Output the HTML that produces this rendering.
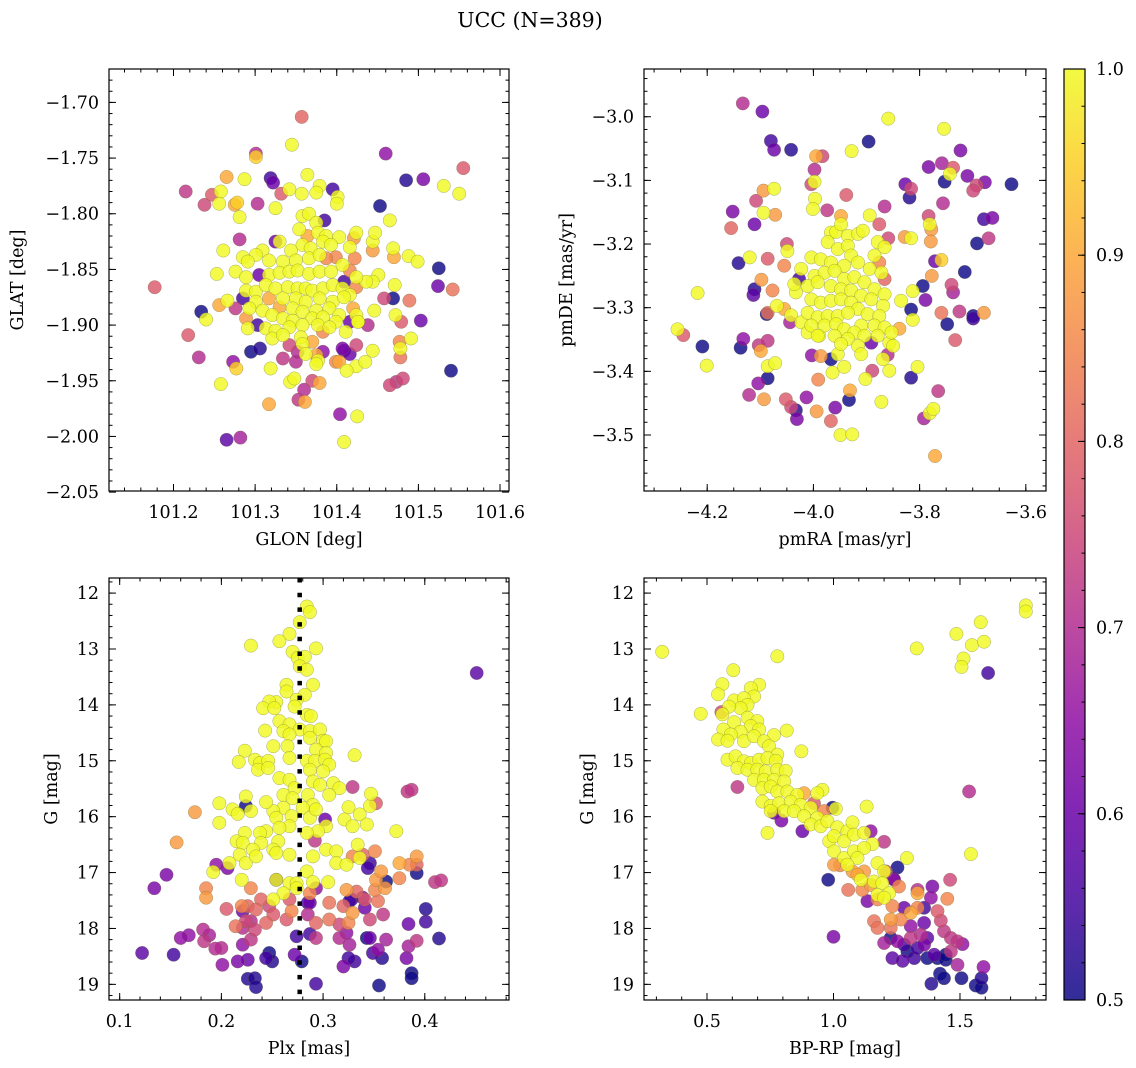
<!DOCTYPE html>
<html><head><meta charset="utf-8">
<style>
html,body{margin:0;padding:0;background:#fff;}
svg{display:block;font-family:"DejaVu Serif","Liberation Serif",serif;}
</style></head>
<body>
<svg id="fig" width="1136" height="1068" viewBox="0 0 1136 1068" xmlns="http://www.w3.org/2000/svg">
<rect width="1136" height="1068" fill="#fff"/>
<text x="530" y="27" font-size="20.5" text-anchor="middle">UCC (N=389)</text>
</svg>
<script>
// ---- Panel 1: GLON vs GLAT  [glon, glat, prob]
const p1Points = [
[101.357,-1.713,.8],[101.345,-1.738,1],[101.301,-1.746,.7],[101.301,-1.749,.95],[101.460,-1.746,.65],[101.555,-1.759,.78],
[101.265,-1.767,.9],[101.287,-1.769,1],[101.319,-1.768,.55],[101.322,-1.772,.6],[101.364,-1.765,1],[101.485,-1.770,.52],
[101.506,-1.769,.62],[101.531,-1.775,1],[101.550,-1.782,1],[101.215,-1.780,.72],[101.247,-1.783,.78],[101.258,-1.780,1],
[101.238,-1.792,.75],[101.256,-1.791,1],[101.275,-1.792,.9],[101.278,-1.790,.95],[101.281,-1.803,1],[101.303,-1.791,.7],
[101.325,-1.795,1],[101.332,-1.782,.78],[101.342,-1.778,1],[101.357,-1.782,1],[101.379,-1.775,1],[101.375,-1.781,1],
[101.395,-1.778,.55],[101.401,-1.785,1],[101.400,-1.791,1],[101.453,-1.793,.5],[101.465,-1.806,1],[101.525,-1.849,.5],
[101.524,-1.865,.6],[101.542,-1.868,.82],[101.177,-1.866,.78],[101.253,-1.854,1],[101.261,-1.833,1],[101.281,-1.823,.7],
[101.234,-1.888,.5],[101.240,-1.895,1],[101.218,-1.909,.78],[101.231,-1.929,.7],[101.273,-1.933,.65],[101.277,-1.939,.95],
[101.258,-1.953,1],[101.295,-1.924,.5],[101.306,-1.921,.52],[101.319,-1.939,1],[101.317,-1.971,.9],[101.343,-1.951,1],
[101.348,-1.948,1],[101.360,-1.958,.7],[101.370,-1.950,.75],[101.379,-1.952,.9],[101.353,-1.967,.72],[101.361,-1.969,.9],
[101.404,-1.980,.65],[101.425,-1.982,1],[101.409,-2.005,1],[101.265,-2.003,.58],[101.282,-2.001,.68],[101.540,-1.941,.5],
[101.503,-1.896,.6],[101.489,-1.878,.82],[101.479,-1.897,.78],[101.491,-1.912,1],[101.477,-1.915,.85],[101.478,-1.921,1],
[101.478,-1.929,.82],[101.465,-1.954,.75],[101.481,-1.948,.75],[101.473,-1.951,.72],[101.444,-1.923,1],[101.424,-1.937,1],
[101.435,-1.933,1],[101.412,-1.941,1],[101.403,-1.933,.9],[101.409,-1.923,.6],[101.424,-1.918,.75],[101.469,-1.831,1],
[101.470,-1.839,.9],[101.488,-1.838,1],[101.499,-1.843,1],[101.471,-1.864,1],[101.458,-1.876,.75],[101.469,-1.876,.5],
[101.444,-1.825,1],[101.447,-1.817,1],[101.444,-1.833,.88],[101.424,-1.817,1],[101.421,-1.822,.88],[101.451,-1.855,1],
[101.444,-1.861,1],[101.436,-1.861,1],[101.446,-1.887,1],[101.472,-1.891,1],[101.426,-1.897,1],[101.438,-1.900,.7],
[101.358,-1.802,1],[101.366,-1.800,1],[101.375,-1.808,1],[101.385,-1.806,.55],[101.354,-1.814,1],[101.364,-1.820,.9],
[101.377,-1.817,1],[101.387,-1.820,1],[101.403,-1.821,1],[101.325,-1.825,.6],[101.330,-1.825,1],[101.344,-1.833,1],
[101.358,-1.828,1],[101.368,-1.831,1],[101.383,-1.825,1],[101.393,-1.828,1],[101.416,-1.830,1],[101.422,-1.840,.85],
[101.399,-1.839,.85],[101.309,-1.833,1],[101.301,-1.837,1],[101.285,-1.839,1],[101.291,-1.843,1],[101.317,-1.842,1],
[101.334,-1.843,1],[101.350,-1.842,1],[101.366,-1.840,1],[101.379,-1.837,1],[101.387,-1.840,.85],[101.407,-1.846,1],
[101.416,-1.851,.85],[101.276,-1.852,1],[101.289,-1.857,1],[101.305,-1.855,.6],[101.317,-1.855,1],[101.330,-1.853,1],
[101.342,-1.852,1],[101.352,-1.851,1],[101.366,-1.854,1],[101.379,-1.852,1],[101.393,-1.852,1],[101.409,-1.861,.55],
[101.424,-1.857,1],[101.424,-1.866,.85],[101.289,-1.869,1],[101.301,-1.870,1],[101.313,-1.864,1],[101.325,-1.867,1],
[101.340,-1.866,1],[101.352,-1.867,1],[101.362,-1.867,1],[101.370,-1.869,1],[101.383,-1.867,1],[101.395,-1.864,1],
[101.407,-1.867,1],[101.416,-1.873,1],[101.285,-1.876,.55],[101.301,-1.879,1],[101.317,-1.876,.9],[101.334,-1.876,1],
[101.350,-1.876,1],[101.362,-1.879,1],[101.379,-1.876,1],[101.395,-1.879,1],[101.409,-1.875,1],[101.256,-1.882,.9],
[101.266,-1.878,1],[101.276,-1.885,.72],[101.293,-1.885,1],[101.309,-1.887,1],[101.330,-1.884,.9],[101.346,-1.885,1],
[101.358,-1.888,1],[101.375,-1.887,1],[101.391,-1.885,1],[101.403,-1.891,1],[101.420,-1.885,.9],[101.424,-1.891,1],
[101.289,-1.894,.88],[101.303,-1.900,.55],[101.321,-1.891,1],[101.334,-1.894,1],[101.346,-1.896,1],[101.370,-1.894,1],
[101.383,-1.893,1],[101.399,-1.897,1],[101.416,-1.897,.6],[101.426,-1.897,1],[101.291,-1.903,1],[101.313,-1.903,1],
[101.325,-1.905,1],[101.342,-1.902,1],[101.358,-1.900,1],[101.377,-1.900,1],[101.391,-1.902,1],[101.383,-1.906,.85],
[101.411,-1.906,1],[101.321,-1.912,1],[101.334,-1.909,1],[101.356,-1.911,1],[101.370,-1.915,.9],[101.358,-1.917,1],
[101.342,-1.918,.75],[101.352,-1.924,.7],[101.362,-1.926,1],[101.375,-1.927,.9],[101.383,-1.924,.65],[101.377,-1.932,1],
[101.407,-1.921,.62],[101.416,-1.926,.6],[101.399,-1.933,.85],[101.334,-1.930,.72],[101.350,-1.933,.7],[101.375,-1.935,1]
];
const p1XTicks = [101.2,101.3,101.4,101.5,101.6];
const p1YTicks = [-1.70,-1.75,-1.80,-1.85,-1.90,-1.95,-2.00,-2.05];

// ---- Panel 2: pmRA vs pmDE  [pmra, pmde, prob]
const p2Points = [
[-4.133,-2.979,.7],[-4.096,-2.992,.6],[-4.080,-3.038,.55],[-4.074,-3.052,.6],[-4.042,-3.052,.52],[-3.896,-3.039,.5],
[-3.859,-3.003,1],[-3.754,-3.019,1],[-3.928,-3.054,1],[-3.995,-3.062,.9],[-3.983,-3.062,.75],[-3.998,-3.083,.7],
[-4.004,-3.106,.75],[-3.998,-3.102,1],[-3.938,-3.123,.78],[-3.997,-3.129,1],[-4.001,-3.145,1],[-3.974,-3.147,.72],
[-3.948,-3.156,.9],[-3.894,-3.155,1],[-3.876,-3.169,.78],[-3.866,-3.141,.7],[-3.723,-3.053,.62],[-3.783,-3.079,.62],
[-3.758,-3.073,.68],[-3.737,-3.080,.78],[-3.743,-3.090,1],[-3.753,-3.102,.5],[-3.710,-3.093,.62],[-3.677,-3.103,.62],
[-3.693,-3.108,.75],[-3.699,-3.116,.75],[-3.627,-3.106,.5],[-3.827,-3.106,.6],[-3.816,-3.113,.75],[-3.819,-3.127,.52],
[-3.756,-3.136,.7],[-3.783,-3.156,.75],[-3.781,-3.169,1],[-3.778,-3.177,.88],[-3.679,-3.161,.55],[-3.663,-3.159,.62],
[-3.670,-3.191,.72],[-3.692,-3.199,.5],[-3.828,-3.189,.88],[-3.816,-3.191,1],[-3.779,-3.196,.88],[-3.859,-3.191,.75],
[-3.771,-3.227,.6],[-3.759,-3.225,.95],[-3.777,-3.250,.88],[-3.715,-3.244,.5],[-3.740,-3.264,.75],[-3.737,-3.276,.68],
[-3.794,-3.266,.5],[-3.789,-3.288,.62],[-3.759,-3.308,.82],[-3.725,-3.306,.72],[-3.748,-3.326,.5],[-3.699,-3.317,.55],
[-3.699,-3.313,.5],[-3.679,-3.308,.88],[-3.733,-3.351,.78],[-3.813,-3.274,1],[-3.835,-3.289,1],[-3.816,-3.303,.5],
[-3.813,-3.319,1],[-3.838,-3.333,.9],[-4.152,-3.149,.62],[-4.108,-3.132,.75],[-4.155,-3.175,.8],[-4.111,-3.169,.6],
[-4.094,-3.151,1],[-4.072,-3.154,.88],[-4.094,-3.116,.88],[-4.074,-3.113,1],[-4.141,-3.230,.52],[-4.120,-3.221,1],
[-4.086,-3.223,.78],[-4.218,-3.277,1],[-4.256,-3.334,1],[-4.245,-3.343,.78],[-4.209,-3.361,.5],[-4.201,-3.391,1],
[-4.137,-3.363,.5],[-4.132,-3.349,.65],[-4.103,-3.359,.72],[-4.086,-3.352,.72],[-4.099,-3.368,.9],[-4.086,-3.392,1],
[-4.072,-3.387,1],[-4.086,-3.411,.5],[-4.104,-3.419,.65],[-4.121,-3.437,.7],[-4.093,-3.444,.88],[-4.052,-3.444,.78],
[-4.042,-3.456,.75],[-4.033,-3.461,.52],[-4.031,-3.475,.62],[-3.994,-3.463,.88],[-4.013,-3.441,.65],[-3.967,-3.478,.8],
[-3.959,-3.457,.62],[-3.933,-3.445,.5],[-3.931,-3.430,.9],[-3.949,-3.500,1],[-3.927,-3.499,1],[-3.872,-3.448,1],
[-3.816,-3.410,.52],[-3.804,-3.393,1],[-3.765,-3.431,.72],[-3.792,-3.474,.68],[-3.781,-3.466,1],[-3.774,-3.459,1],
[-3.771,-3.533,.9],[-3.991,-3.413,.85],[-3.902,-3.412,1],[-3.857,-3.399,1],[-3.889,-3.399,.75],[-4.111,-3.271,.52],
[-4.113,-3.280,.58],[-4.098,-3.256,.88],[-4.077,-3.273,.85],[-4.088,-3.310,.5],[-4.086,-3.308,.82],[-4.069,-3.297,1],
[-4.042,-3.312,1],[-4.044,-3.323,.68],[-4.055,-3.302,.9],[-4.055,-3.234,.85],[-4.049,-3.211,1],[-4.050,-3.200,.75],
[-4.027,-3.255,.55],[-4.033,-3.276,1],[-4.023,-3.323,1],[-4.003,-3.375,.65],[-3.986,-3.376,.88],[-3.967,-3.381,.5],
[-3.964,-3.402,1],[-3.942,-3.393,1],[-3.989,-3.344,1],[-4.011,-3.339,1],
[-3.967,-3.182,1],[-3.957,-3.181,1],[-3.948,-3.169,1],[-3.935,-3.187,1],[-3.916,-3.184,1],[-3.907,-3.179,1],
[-3.879,-3.197,1],[-3.866,-3.205,1],[-3.885,-3.218,1],[-3.876,-3.229,.85],[-3.973,-3.197,1],[-3.954,-3.208,1],
[-3.935,-3.203,1],[-3.929,-3.218,1],[-4.004,-3.221,1],[-3.986,-3.224,1],[-3.967,-3.229,1],[-3.942,-3.234,1],
[-3.916,-3.229,1],[-3.894,-3.239,1],[-3.872,-3.245,1],[-3.866,-3.255,.8],[-4.023,-3.239,1],[-3.998,-3.250,1],
[-3.979,-3.245,1],[-3.960,-3.242,1],[-3.942,-3.255,1],[-3.923,-3.252,1],[-3.904,-3.260,1],[-3.885,-3.271,1],
[-3.866,-3.279,1],[-4.036,-3.263,1],[-4.011,-3.266,1],[-3.992,-3.260,1],[-3.967,-3.266,1],[-3.948,-3.271,1],
[-3.929,-3.273,1],[-3.910,-3.281,1],[-3.891,-3.287,1],[-3.869,-3.297,1],[-4.004,-3.287,1],[-3.986,-3.292,1],
[-3.967,-3.289,1],[-3.948,-3.287,1],[-3.929,-3.292,1],[-3.916,-3.302,1],[-3.898,-3.310,1],[-3.876,-3.313,1],
[-4.011,-3.308,1],[-3.992,-3.315,1],[-3.973,-3.313,1],[-3.954,-3.313,1],[-3.935,-3.308,1],[-3.910,-3.328,1],
[-3.885,-3.328,1],[-3.866,-3.331,1],[-4.004,-3.328,1],[-3.979,-3.328,1],[-3.957,-3.326,1],[-3.942,-3.334,1],
[-3.923,-3.339,1],[-3.904,-3.344,1],[-3.879,-3.344,1],[-3.857,-3.355,1],[-3.992,-3.344,1],[-3.960,-3.344,1],
[-3.935,-3.349,1],[-3.916,-3.360,1],[-3.891,-3.355,.6],[-3.869,-3.381,1],[-3.910,-3.373,1],[-3.954,-3.373,1],
[-3.948,-3.357,1],[-3.853,-3.339,1],[-3.850,-3.360,1],[-3.860,-3.374,.7]
];
const p2XTicks = [-4.2,-4.0,-3.8,-3.6];
const p2YTicks = [-3.0,-3.1,-3.2,-3.3,-3.4,-3.5];

// ---- Panel 3: Plx vs G  [plx, gmag, prob]
const p3Points = [
[.284,12.24,1],[.287,12.34,1],[.277,12.52,1],[.267,12.73,1],[.257,12.86,1],[.229,12.94,1],[.293,12.99,1],[.270,13.05,1],
[.275,13.16,1],[.282,13.14,1],[.277,13.31,1],[.284,13.37,1],[.264,13.64,1],[.290,13.64,1],[.264,13.76,1],[.282,13.82,1],
[.274,13.91,1],[.254,13.95,1],[.247,13.94,1],[.241,14.06,1],[.252,14.06,1],[.272,14.03,1],[.284,14.18,1],[.288,14.20,1],
[.257,14.29,1],[.267,14.35,1],[.243,14.46,1],[.261,14.47,1],[.277,14.44,1],[.287,14.47,1],[.297,14.44,1],[.267,14.53,1],
[.287,14.59,1],[.300,14.64,1],[.303,14.65,1],[.251,14.74,1],[.265,14.74,1],[.293,14.80,1],[.303,14.86,1],[.331,14.90,1],
[.223,14.82,1],[.217,15.02,1],[.233,14.98,1],[.238,15.04,1],[.246,15.00,1],[.267,14.95,1],[.284,15.00,1],[.292,15.00,1],
[.302,14.98,1],[.306,15.07,1],[.236,15.16,1],[.246,15.13,1],[.257,15.31,1],[.267,15.34,1],[.287,15.16,1],[.300,15.19,1],
[.290,15.37,1],[.297,15.43,1],[.310,15.40,1],[.316,15.49,1],[.306,15.61,1],[.272,15.49,1],[.261,15.61,1],[.270,15.67,1],
[.285,15.61,1],[.290,15.79,1],[.280,15.84,1],[.261,15.84,1],[.251,15.90,1],[.224,15.64,1],[.244,15.74,1],[.198,15.76,1],
[.211,15.87,1],[.216,15.95,1],[.229,15.90,1],[.198,16.11,1],[.254,16.02,1],[.269,15.99,1],[.287,16.02,1],[.293,15.87,1],
[.325,15.83,1],[.336,15.96,1],[.346,15.81,1],[.347,15.59,1],[.321,16.05,1],[.329,16.17,1],[.343,16.14,1],[.372,16.26,1],
[.303,16.17,1],[.295,16.26,1],[.284,16.29,1],[.267,16.17,1],[.257,16.20,1],[.244,16.26,1],[.238,16.29,1],[.223,16.29,1],
[.215,16.44,1],[.221,16.47,1],[.239,16.47,1],[.256,16.44,1],[.251,16.59,1],[.231,16.59,1],[.218,16.68,1],[.224,16.83,1],
[.234,16.71,1],[.254,16.65,1],[.267,16.68,1],[.290,16.71,1],[.303,16.59,1],[.313,16.62,1],[.334,16.50,1],[.336,16.74,1],
[.208,16.83,1],[.192,16.99,1],[.220,17.13,1],[.254,17.13,1],[.267,17.19,1],[.274,17.19,1],[.284,16.98,1],[.290,17.17,1],
[.305,17.17,1],[.313,16.83,1],[.323,16.86,1],[.261,17.37,1],[.251,17.48,1],[.274,17.28,1],
[.174,15.92,.88],[.156,16.46,.88],[.185,17.28,.85],[.185,17.45,.88],[.229,17.28,.85],[.239,17.48,.8],[.220,17.60,.85],
[.226,17.60,.8],[.234,17.66,.8],[.205,17.65,.78],[.247,17.60,.75],[.251,17.75,.78],[.269,17.69,.85],[.267,17.48,.78],
[.287,17.37,.85],[.293,17.28,.65],[.306,17.54,.82],[.320,17.60,.8],[.323,17.31,.88],[.333,17.34,.8],[.341,17.48,.78],
[.354,17.51,.82],[.329,17.72,.88],[.325,17.90,.85],[.306,17.84,.82],[.293,17.90,.8],[.346,17.84,.75],[.359,17.75,.72],
[.316,17.93,.75],[.285,17.75,.7],[.339,17.45,.6],[.328,17.48,.55],[.285,17.54,.55],[.214,17.96,.82],[.224,17.87,.75],
[.233,18.02,.75],[.244,17.90,.8],[.221,17.99,.7],[.229,18.20,.72],[.264,17.84,.78],[.375,17.10,.85],[.361,17.28,.88],
[.351,17.31,.85],[.352,17.13,.88],[.357,16.98,.88],[.351,16.62,.85],[.339,16.68,.8],[.329,16.71,.85],[.346,16.83,.55],
[.344,16.92,.55],[.362,17.16,.5],[.392,16.71,.88],[.375,16.83,.9],[.385,16.86,.85],[.392,17.01,.5],[.392,16.86,.8],
[.410,17.17,.72],[.416,17.14,.72],[.383,15.55,.72],[.387,15.52,.72],[.329,15.47,.72],[.352,15.76,.78],[.206,16.92,.62],
[.195,16.86,.65],[.146,17.04,.62],[.134,17.28,.62],[.302,16.05,.6],[.292,16.43,.72],[.224,15.81,.5],[.254,17.13,.55],
[.287,17.54,.6],[.326,17.51,.55],[.341,17.63,.6],[.323,18.08,.65],[.346,18.17,.6],[.343,18.17,.5],[.362,18.20,.68],
[.392,18.22,.72],[.384,18.32,.68],[.382,18.53,.62],[.384,17.92,.6],[.401,17.65,.52],[.401,17.88,.55],[.414,18.18,.52],
[.387,18.80,.5],[.387,18.89,.5],[.355,19.02,.5],[.293,18.99,.55],[.358,18.53,.52],[.349,18.44,.55],[.354,18.38,.65],
[.331,18.59,.55],[.325,18.53,.55],[.320,18.68,.62],[.326,18.29,.68],[.316,18.17,.7],[.293,18.17,.72],[.287,18.10,.55],
[.274,18.14,.55],[.279,18.59,.5],[.272,18.47,.6],[.247,18.44,.5],[.250,18.59,.52],[.244,18.53,.55],[.226,18.56,.6],
[.216,18.59,.62],[.221,18.29,.65],[.201,18.65,.65],[.200,18.35,.7],[.194,18.36,.7],[.188,18.12,.68],[.183,18.23,.72],
[.182,18.02,.7],[.168,18.12,.65],[.160,18.17,.65],[.153,18.47,.55],[.122,18.44,.58],[.226,18.90,.52],[.233,18.89,.52],
[.234,19.05,.52],[.221,17.69,.6],[.451,13.43,.58],[.229,17.87,.7]
];
const p3XTicks = [0.1,0.2,0.3,0.4];
const gYTicks = [12,13,14,15,16,17,18,19];
const plxMedian = [0.277];

// ---- Panel 4: BP-RP vs G  [bprp, gmag, prob]
const p4Points = [
[.323,13.05,1],[.778,13.13,1],[.604,13.38,1],[.561,13.63,1],[.706,13.64,1],[.673,13.70,1],[.544,13.81,1],[.686,13.85,1],
[.607,13.92,1],[.646,13.88,1],[.660,14.00,1],[.633,14.06,1],[.587,14.03,1],[.475,14.16,1],[.561,14.17,1],[.607,14.31,1],
[.660,14.23,1],[.699,14.29,1],[.673,14.38,1],[.706,14.44,1],[.565,14.44,1],[.633,14.48,1],[.594,14.53,1],[.544,14.62,1],
[.581,14.64,1],[.646,14.65,1],[.686,14.56,1],[.765,14.54,1],[.815,14.46,1],[.725,14.65,1],[.745,14.74,1],[.873,14.83,1],
[.778,14.89,1],[.581,14.98,1],[.613,14.92,1],[.646,15.01,1],[.673,15.04,1],[.706,14.98,1],[.739,14.95,1],[.772,15.00,1],
[.620,15.13,1],[.660,15.16,1],[.699,15.16,1],[.732,15.19,1],[.778,15.16,1],[.811,15.18,1],[.686,15.34,1],[.725,15.34,1],
[.765,15.34,1],[.805,15.37,1],[.719,15.49,1],[.752,15.46,1],[.778,15.55,1],[.818,15.55,1],[.857,15.61,1],[.956,15.52,1],
[.936,15.58,1],[.719,15.73,1],[.752,15.81,1],[.785,15.76,1],[.831,15.73,1],[.870,15.79,1],[.910,15.84,1],[.752,15.90,1],
[.805,15.90,1],[.844,15.90,1],[1.009,15.86,1],[1.131,15.82,1],[.884,15.99,1],[.936,16.02,1],[.910,16.14,1],[.950,16.17,1],
[.976,16.08,1],[1.015,16.19,1],[1.055,16.26,1],[1.075,16.10,1],[.983,16.44,1],[1.002,16.35,1],[1.042,16.44,1],[1.081,16.32,1],
[1.121,16.29,1],[1.154,16.49,1],[.739,16.29,1],[1.002,16.62,1],[1.042,16.74,1],[1.081,16.62,1],[1.121,16.56,1],[1.095,16.74,1],
[1.055,16.86,1],[1.174,16.83,1],[1.200,16.98,1],[1.108,17.13,1],[1.160,17.16,1],[1.193,17.19,1],[1.220,17.37,1],[1.174,17.40,1],
[1.200,17.45,1],[1.290,16.74,1],[1.543,16.67,1],[1.329,12.99,1],[1.486,12.73,1],[1.582,12.52,1],[1.547,12.93,1],[1.595,12.87,1],
[1.514,13.17,1],[1.506,13.32,1],[1.760,12.22,1],[1.760,12.33,1],
[.557,14.13,.75],[.620,15.47,.72],[.923,15.76,.78],[.963,15.90,.85],[.884,15.58,.9],[1.026,16.87,.85],[1.002,16.86,.88],
[1.075,16.98,.88],[1.121,16.98,.88],[1.095,17.04,.9],[1.058,17.31,.82],[1.114,17.31,.85],[1.147,17.22,.88],[1.174,17.48,.85],
[1.233,17.60,.85],[1.259,17.25,.85],[1.332,17.37,.9],[1.305,17.72,.9],[1.332,17.63,.85],[1.266,17.84,.85],[1.226,17.84,.88],
[1.160,17.87,.82],[1.174,17.99,.82],[1.226,17.99,.82],[1.200,18.26,.68],[1.253,18.23,.65],[1.305,18.17,.72],[1.345,18.11,.7],
[1.411,17.69,.78],[1.450,17.47,.85],[1.461,17.13,.75],[1.424,17.86,.75],[1.437,18.05,.72],[1.464,18.17,.72],[1.490,18.23,.72],
[1.510,18.28,.65],[1.464,18.41,.72],[1.490,18.65,.68],[1.593,18.69,.65],[1.536,15.55,.7],[1.200,16.45,.72],[1.207,16.98,.75],
[1.240,17.13,.65],[1.147,16.26,.65],[1.253,16.91,.5],[1.237,17.11,.55],[1.134,17.51,.62],[1.332,17.31,.7],[1.391,17.25,.62],
[1.385,17.45,.65],[1.279,17.63,.6],[1.358,17.63,.55],[1.305,17.96,.65],[1.358,17.90,.6],[1.371,18.17,.58],
[.996,15.84,.5],[.979,17.13,.5],[.877,16.26,.6],[.765,15.93,.6],[.794,16.07,.62],[1.000,18.15,.62],[1.611,13.43,.55],
[1.226,18.17,.5],[1.279,18.29,.55],[1.233,18.53,.58],[1.273,18.58,.58],[1.319,18.53,.55],[1.371,18.53,.5],[1.411,18.53,.5],
[1.444,18.56,.5],[1.444,18.47,.5],[1.421,18.81,.5],[1.437,18.89,.5],[1.506,18.89,.5],[1.387,18.99,.52],[1.562,19.02,.48],
[1.585,19.06,.5],[1.585,18.89,.52],[1.332,18.35,.55],[1.292,18.41,.5],[1.358,18.29,.62],[1.398,18.47,.58]
];
const p4XTicks = [0.5,1.0,1.5];
const cbTicks = [0.5,0.6,0.7,0.8,0.9,1.0];

const NS = "http://www.w3.org/2000/svg";
const svg = document.getElementById('fig');
const FS = 17.5;
const plasma = ["#0d0887","#41049d","#6a00a8","#8f0da4","#b12a90","#cc4778","#e16462","#f2844b","#fca636","#fcce25","#f0f921"];
function hex(h){return [parseInt(h.slice(1,3),16),parseInt(h.slice(3,5),16),parseInt(h.slice(5,7),16)];}
function cmap(p){
  let t=(p-0.5)/0.5; t=Math.max(0,Math.min(1,t));
  const f=t*10, i=Math.min(9,Math.floor(f)), r=f-i;
  const a=hex(plasma[i]), b=hex(plasma[i+1]);
  return `rgb(${Math.round(a[0]+(b[0]-a[0])*r)},${Math.round(a[1]+(b[1]-a[1])*r)},${Math.round(a[2]+(b[2]-a[2])*r)})`;
}
function mk(tag, attrs, parent){
  const e=document.createElementNS(NS,tag);
  for(const k in attrs) e.setAttribute(k,attrs[k]);
  (parent||svg).appendChild(e); return e;
}
function fmt(v,d){return (v<0?"\u2212":"")+Math.abs(v).toFixed(d);}

function panel(cfg){
  const g=mk('g',{});
  
  
  const L=cfg.box[0],T=cfg.box[1],R=cfg.box[2],B=cfg.box[3];
  const sx=v=>L+(v-cfg.xr[0])/(cfg.xr[1]-cfg.xr[0])*(R-L);
  const sy=v=>T+(v-cfg.yr[0])/(cfg.yr[1]-cfg.yr[0])*(B-T);
  const clipId='clip-'+cfg.name;
  const cp=mk('clipPath',{id:clipId},g); mk('rect',{x:L,y:T,width:R-L,height:B-T},cp);
  const pg=mk('g',{'clip-path':`url(#${clipId})`},g);
  
  
  const pts=cfg.points.slice().sort((a,b)=>a[2]-b[2]);
  pts.forEach(d=>{
    const c=mk('circle',{cx:sx(d[0]).toFixed(1),cy:sy(d[1]).toFixed(1),r:6.7,fill:cmap(d[2]),'fill-opacity':0.82,stroke:'#6e6e40','stroke-width':0.5,'stroke-opacity':0.55},pg);
    
    
  });
  if(cfg.vline){
    cfg.vline.forEach(v=>{
      const ln=mk('line',{x1:sx(v),x2:sx(v),y1:T,y2:B,stroke:'#000','stroke-width':4.5,'stroke-dasharray':'4.5 10.2'},pg);
      
      
    });
  }
  const fr=mk('rect',{x:L,y:T,width:R-L,height:B-T,fill:'none',stroke:'#000','stroke-width':1.2},g);
  
  
  const tk=mk('g',{stroke:'#000','stroke-width':1},g);
  const lo=Math.min(cfg.xr[0],cfg.xr[1]), hi=Math.max(cfg.xr[0],cfg.xr[1]);
  for(let k=Math.ceil(lo/cfg.xminor-1e-6);k*cfg.xminor<=hi+1e-9;k++){
    const x=sx(k*cfg.xminor); mk('line',{x1:x,x2:x,y1:B,y2:B-3.5},tk); mk('line',{x1:x,x2:x,y1:T,y2:T+3.5},tk);
  }
  const ylo=Math.min(cfg.yr[0],cfg.yr[1]), yhi=Math.max(cfg.yr[0],cfg.yr[1]);
  for(let k=Math.ceil(ylo/cfg.yminor-1e-6);k*cfg.yminor<=yhi+1e-9;k++){
    const y=sy(k*cfg.yminor); mk('line',{x1:L,x2:L+3.5,y1:y,y2:y},tk); mk('line',{x1:R,x2:R-3.5,y1:y,y2:y},tk);
  }
  cfg.xticks.forEach(v=>{
    const x=sx(v); if(x<L-1||x>R+1) return;
    mk('line',{x1:x,x2:x,y1:B,y2:B-7},tk); mk('line',{x1:x,x2:x,y1:T,y2:T+7},tk);
    const t=mk('text',{x:x,y:B+27,'font-size':FS,'text-anchor':'middle'},g); t.textContent=fmt(v,cfg.xd);
    
    
  });
  cfg.yticks.forEach(v=>{
    const y=sy(v);
    mk('line',{x1:L,x2:L+7,y1:y,y2:y},tk); mk('line',{x1:R,x2:R-7,y1:y,y2:y},tk);
    const t=mk('text',{x:L-10,y:y+6,'font-size':FS,'text-anchor':'end'},g); t.textContent=fmt(v,cfg.yd);
    
    
  });
  const xl=mk('text',{x:(L+R)/2,y:B+54,'font-size':FS,'text-anchor':'middle'},g); xl.textContent=cfg.xlabel;
  
  
  const yl=mk('text',{x:0,y:0,'font-size':FS,'text-anchor':'middle',transform:`translate(${cfg.ylx},${(T+B)/2}) rotate(-90)`},g); yl.textContent=cfg.ylabel;
  
  
}

panel({name:'glon-glat-panel',box:[109,69,509,491],xr:[101.121,101.611],yr:[-1.670,-2.049],points:p1Points,
  xticks:p1XTicks,yticks:p1YTicks,xminor:0.02,yminor:0.01,xd:1,yd:2,xlabel:'GLON [deg]',ylabel:'GLAT [deg]',ylx:23});
panel({name:'pmra-pmde-panel',box:[644,69,1046,491],xr:[-4.319,-3.562],yr:[-2.925,-3.588],points:p2Points,
  xticks:p2XTicks,yticks:p2YTicks,xminor:0.05,yminor:0.02,xd:1,yd:1,xlabel:'pmRA [mas/yr]',ylabel:'pmDE [mas/yr]',ylx:572});
panel({name:'plx-g-panel',box:[109,578,509,1000],xr:[0.0895,0.4828],yr:[11.73,19.28],points:p3Points,vline:plxMedian,
  xticks:p3XTicks,yticks:gYTicks,xminor:0.02,yminor:0.2,xd:1,yd:0,xlabel:'Plx [mas]',ylabel:'G [mag]',ylx:57});
panel({name:'bprp-g-panel',box:[644,578,1046,1000],xr:[0.251,1.84],yr:[11.73,19.28],points:p4Points,
  xticks:p4XTicks,yticks:gYTicks,xminor:0.1,yminor:0.2,xd:1,yd:0,xlabel:'BP-RP [mag]',ylabel:'G [mag]',ylx:593});

(function(){
  const L=1064,R=1085,T=69,B=1000;
  const defs=mk('defs',{});
  const lg=mk('linearGradient',{id:'cbgrad',x1:0,y1:1,x2:0,y2:0},defs);
  for(let i=0;i<=20;i++){const p=0.5+i/40; mk('stop',{offset:i/20,'stop-color':cmap(p),'stop-opacity':0.85},lg);}
  const g=mk('g',{});
  
  
  mk('rect',{x:L,y:T,width:R-L,height:B-T,fill:'url(#cbgrad)'},g);
  mk('rect',{x:L,y:T,width:R-L,height:B-T,fill:'none',stroke:'#000','stroke-width':1.2},g);
  const sy=v=>B-(v-0.5)/0.5*(B-T);
  for(let k=25;k<=50;k++){const y=sy(k*0.02); mk('line',{x1:R,x2:R-3.5,y1:y,y2:y,stroke:'#000','stroke-width':1},g);}
  cbTicks.forEach(v=>{
    const y=sy(v); mk('line',{x1:R,x2:R-7,y1:y,y2:y,stroke:'#000','stroke-width':1},g);
    const t=mk('text',{x:R+11,y:y+6,'font-size':FS},g); t.textContent=v.toFixed(1);
    
    
  });
})();
</script>
</body></html>
